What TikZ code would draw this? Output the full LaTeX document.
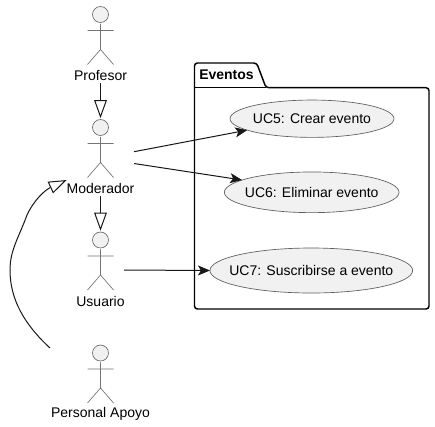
\documentclass[tikz,border=0pt]{standalone}
\usepackage{fontspec}
\setmainfont{Liberation Sans}
\usetikzlibrary{shapes.geometric,arrows.meta}
\definecolor{inkc}{HTML}{181818}
\definecolor{fillc}{HTML}{F1F1F1}
\tikzset{
  x=0.75pt,y=-0.75pt,
  head/.style={circle,draw=inkc!65,fill=fillc,line width=0.5pt,minimum size=12pt,inner sep=0pt,outer sep=1pt},
  limb/.style={draw=inkc!60,line width=0.5pt},
  actorname/.style={font=\fontsize{10.5pt}{12pt}\selectfont,text=black,minimum height=12pt,inner sep=0pt,outer sep=0pt,anchor=center},
  usecase/.style={ellipse,draw=inkc!70,fill=fillc,line width=0.5pt,inner sep=0pt,outer sep=0pt,font=\fontsize{10.5pt}{12pt}\selectfont,text=black},
  pack/.style={draw=black,line width=1.1pt,rounded corners=2.2pt,fill=white},
  link/.style={draw=inkc,line width=0.75pt,-{Stealth[length=9pt,width=7.5pt,inset=2.2pt]}},
  inherit/.style={draw=inkc,line width=0.75pt,-{Triangle[open,length=13.5pt,width=9.5pt,fill=white]}}
}
\newcommand{\actorfig}[3]{% name, head y, label y
  \node[head] (#1Head) at (100.5,#2) {};
  \draw[limb] (#1Head.south) -- (100.5,#2+35) (87.5,#2+16) -- (113.5,#2+16)
    (87.5,#2+50) -- (100.5,#2+35) -- (113.5,#2+50);
}
\begin{document}
\begin{tikzpicture}
\useasboundingbox (0,0) rectangle (435,426);
\fill[white] (0,0) rectangle (435,426);

% package
\draw[pack] (194.5,87.7) -- (194.5,63) -- (256.7,63) -- (266,87.7) -- (429,87.7) -- (429,309) -- (194.5,309) -- cycle;
\draw[draw=black,line width=1.1pt] (194.5,87.7) -- (266,87.7);
\node[font=\fontsize{10.5pt}{12pt}\selectfont\bfseries,text=black,inner sep=0pt,anchor=west] (pkgTitle) at (199,75) {Eventos};

% use cases
\node[usecase,minimum width=123pt,minimum height=28pt] (uc5) at (312,118.7) {\makebox[0pt]{UC5: Crear evento}};
\node[usecase,minimum width=131pt,minimum height=30.5pt] (uc6) at (311.7,192.3) {\makebox[0pt]{UC6: Eliminar evento}};
\node[usecase,minimum width=152pt,minimum height=33.75pt] (uc7) at (311.3,270.5) {\makebox[0pt]{UC7: Suscribirse a evento}};

% actors
\actorfig{prof}{14.5}{75}
\node[actorname] (profLabel) at (100.5,75) {Profesor};
\actorfig{mod}{127.5}{188}
\node[actorname] (modLabel) at (100.5,188) {Moderador};
\actorfig{usr}{240}{301}
\node[actorname] (usrLabel) at (100.5,301) {Usuario};
\actorfig{apo}{353}{414}
\node[actorname] (apoLabel) at (100.5,414) {Personal Apoyo};

% free ends
\coordinate (modOutA) at (134,151.7);
\coordinate (modOutB) at (134,163.5);
\coordinate (usrOut) at (124,270);
\coordinate (apoOut) at (50,348);

% connectors
\draw[inherit] (profLabel.south) -- (modHead.north);
\draw[inherit] (modLabel.south) -- (usrHead.north);
\draw[inherit] (apoOut) .. controls (25,325) and (10,300) .. (10,270)
   .. controls (10,250) and (19,237) .. (27,215)
   .. controls (34,200) and (45,190) .. (modLabel.north west);
\draw[link] (modOutA) -- (uc5.190);
\draw[link] (modOutB) -- (uc6.170);
\draw[link] (usrOut) -- (uc7.west);
\end{tikzpicture}
\end{document}
